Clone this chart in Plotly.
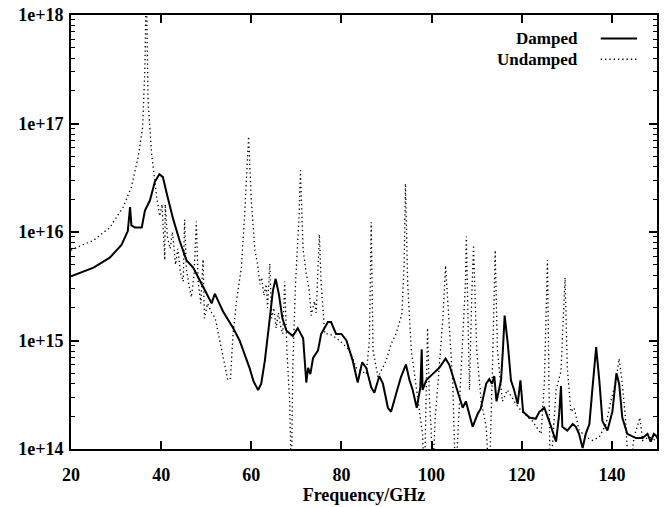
import plotly.graph_objects as go

# ---- data ----
damped_x = [20.0, 22.5, 25.0, 28.6, 31.2, 32.6, 33.1, 33.4, 34.2, 35.7, 36.4, 37.5, 38.6, 39.6, 40.4,
            41.2, 42.7, 44.1, 45.6, 47.1, 48.6, 50.1, 51.2, 51.9, 53.7, 55.9, 57.4, 58.2, 59.6, 60.5,
            61.5, 62.2, 63.0, 64.1, 64.8, 65.4, 66.1, 66.9, 67.8, 69.2, 70.3, 71.5, 72.2, 72.6, 73.1,
            73.7, 74.8, 75.5, 77.0, 77.7, 78.8, 80.0, 81.1, 82.5, 83.6, 84.6, 85.5, 86.6, 87.3, 88.4,
            89.2, 90.3, 91.0, 92.1, 93.2, 94.3, 95.1, 95.8, 96.7, 97.5, 97.8, 98.0, 98.8, 100.2, 101.7,
            103.1, 103.9, 105.0, 106.2, 106.9, 107.6, 108.4, 109.1, 110.2, 110.9, 112.1, 112.8, 113.4,
            113.9, 114.4, 115.4, 115.8, 116.2, 116.9, 117.6, 118.3, 119.1, 119.7, 120.3, 121.7, 123.1,
            123.9, 125.0, 126.1, 127.6, 128.3, 128.7, 129.0, 130.1, 131.3, 132.0, 132.7, 133.5, 134.2,
            135.0, 135.7, 136.5, 137.2, 137.9, 139.0, 140.1, 141.0, 141.6, 142.3, 143.4, 145.3, 146.8,
            147.9, 148.6, 149.3, 150.0]
damped_y = [3.9e15, 4.3e15, 4.7e15, 5.8e15, 7.6e15, 1.02e16, 1.7e16, 1.15e16, 1.1e16, 1.1e16, 1.58e16,
            1.95e16, 2.9e16, 3.4e16, 3.2e16, 2.3e16, 1.3e16, 8.3e15, 5.5e15, 4.7e15, 3.5e15, 2.7e15,
            2.2e15, 2.7e15, 1.86e15, 1.32e15, 1.0e15, 8.1e14, 5.6e14, 4.2e14, 3.5e14, 4.0e14, 6.5e14,
            1.6e15, 2.9e15, 3.7e15, 2.7e15, 1.6e15, 1.23e15, 1.1e15, 1.3e15, 1.05e15, 4.1e14, 5.6e14,
            4.9e14, 6.9e14, 8.1e14, 1.15e15, 1.48e15, 1.48e15, 1.15e15, 1.15e15, 1.0e15, 6.5e14,
            4.1e14, 6.3e14, 5.6e14, 3.7e14, 3.3e14, 4.7e14, 4.0e14, 2.4e14, 2.2e14, 3.2e14, 4.6e14,
            6.0e14, 4.3e14, 3.5e14, 2.4e14, 3.7e14, 8.3e14, 3.5e14, 4.3e14, 4.9e14, 5.6e14, 6.8e14,
            6.0e14, 4.3e14, 3.0e14, 2.4e14, 2.75e14, 2.1e14, 1.6e14, 2.1e14, 2.35e14, 4.0e14, 4.4e14,
            4.0e14, 4.7e14, 2.75e14, 4.3e14, 8.0e14, 1.7e15, 9.3e14, 4.3e14, 3.5e14, 2.6e14, 4.3e14,
            2.2e14, 1.95e14, 1.9e14, 2.2e14, 2.4e14, 1.8e14, 1.17e14, 2.1e14, 3.8e14, 1.6e14, 1.48e14,
            1.7e14, 1.6e14, 1.38e14, 1.02e14, 1.38e14, 1.7e14, 3.7e14, 8.7e14, 4.3e14, 1.8e14, 1.48e14,
            2.2e14, 5.0e14, 4.0e14, 1.95e14, 1.38e14, 1.26e14, 1.26e14, 1.38e14, 1.17e14, 1.38e14, 1.3e14]

undamped_x = [20.0, 22.5, 24.9, 28.6, 31.6, 33.4, 34.9, 35.9, 36.4, 36.7, 37.1, 37.9, 39.0, 39.7, 40.2,
              40.8, 40.9, 41.4, 42.0, 42.5, 43.2, 43.7, 44.3, 44.9, 45.2, 45.6, 46.2, 46.7, 47.3, 47.8,
              48.2, 48.8, 49.3, 49.6, 50.3, 51.2, 52.0, 53.0, 54.0, 54.8, 55.4, 55.9, 56.7, 57.8, 58.5,
              59.0, 59.4, 60.0, 60.8, 61.4, 61.9, 62.3, 62.8, 63.3, 63.6, 64.1, 64.5, 65.0, 65.5, 66.0,
              66.6, 67.0, 67.4, 67.9, 68.5, 68.9, 69.2, 69.8, 70.6, 70.9, 71.5, 72.2, 72.8, 73.3, 74.0,
              74.4, 75.1, 75.5, 76.3, 77.4, 79.6, 81.8, 83.3, 85.5, 86.2, 86.6, 87.0, 88.1, 89.9, 91.0,
              92.1, 93.4, 93.9, 94.2, 94.7, 95.5, 96.6, 97.3, 98.0, 98.4, 98.8, 99.1, 99.5, 99.9, 100.2,
              100.8, 101.4, 102.5, 103.1, 104.0, 104.7, 105.3, 106.2, 106.9, 107.5, 107.7, 108.4, 108.9,
              109.3, 110.0, 111.0, 112.1, 112.8, 113.5, 114.1, 114.6, 115.7, 116.8, 118.7, 120.1, 122.4,
              124.3, 125.0, 125.7, 126.3, 127.6, 128.7, 129.6, 130.1, 130.9, 131.6, 132.7, 134.2, 135.7,
              137.2, 138.7, 139.6, 140.9, 141.6, 142.3, 143.0, 143.8, 144.9, 146.2, 146.8, 148.2, 149.7,
              150.0]
undamped_y = [6.8e15, 7.6e15, 8.3e15, 1.1e16, 1.7e16, 2.6e16, 4.9e16, 9.3e16, 3.3e17, 2.0e18, 1.6e17,
              5.2e16, 2.1e16, 1.4e16, 1.8e16, 5.5e15, 1.8e16, 9.0e15, 7.0e15, 1.0e16, 5.0e15, 7.0e15,
              4.2e15, 3.5e15, 1.3e16, 4.5e15, 3.2e15, 2.5e15, 4.0e15, 1.25e16, 3.5e15, 2.2e15, 5.6e15,
              1.6e15, 2.2e15, 1.8e15, 1.6e15, 1.0e15, 6.3e14, 4.3e14, 4.5e14, 1.07e15, 2.3e15, 4.7e15,
              1.4e16, 4.0e16, 7.6e16, 1.95e16, 6.8e15, 5.0e15, 3.3e15, 3.8e15, 2.6e15, 3.3e15, 2.0e15,
              5.1e15, 1.6e15, 2.0e15, 1.3e15, 1.8e15, 1.3e15, 1.15e15, 3.5e15, 8.0e14, 2.8e14, 5.0e13,
              5.6e14, 3.3e15, 1.4e16, 3.7e16, 6.8e15, 4.1e15, 3.0e15, 1.7e15, 2.3e15, 1.8e15, 9.5e15,
              3.3e15, 1.15e15, 1.15e15, 1.0e15, 8.1e14, 5.6e14, 4.9e14, 1.0e15, 1.23e16, 8.1e14, 4.6e14,
              6.5e14, 9.3e14, 1.15e15, 1.74e15, 5.0e15, 2.8e16, 3.3e15, 8.1e14, 3.7e14, 2.4e14, 1.35e14,
              5.0e13, 4.0e14, 1.3e15, 3.0e14, 1.5e14, 5.0e13, 2.0e14, 4.0e14, 1.6e15, 4.9e15, 1.15e15,
              4.0e14, 5.0e13, 2.75e14, 8.1e14, 3.3e15, 9.1e15, 3.5e14, 2.5e15, 7.6e15, 8.1e14, 2.75e14,
              1.6e14, 5.0e13, 5.6e14, 6.8e15, 8.1e14, 2.75e14, 3.5e14, 2.6e14, 2.2e14, 1.8e14, 1.38e14,
              4.0e14, 5.5e15, 5.0e13, 3.5e14, 5.2e14, 3.8e15, 5.6e14, 2.2e14, 2.4e14, 1.5e14, 1.29e14,
              1.2e14, 1.29e14, 1.7e14, 2.6e14, 4.3e14, 6.8e14, 4.0e14, 1.95e14, 5.0e13, 1.29e14, 1.95e14,
              1.2e14, 1.29e14, 1.2e14, 1.3e14]

series_names = ["Damped", "Undamped"]
x_tick_vals = [20, 40, 60, 80, 100, 120, 140]
y_tick_vals = [1e14, 1e15, 1e16, 1e17, 1e18]
y_tick_text = ["1e+14", "1e+15", "1e+16", "1e+17", "1e+18"]
x_title = "Frequency/GHz"

FONT = "Liberation Serif"
DOT = "1.3px,3px"

fig = go.Figure()
fig.add_trace(go.Scatter(x=damped_x, y=damped_y, mode="lines", name=series_names[0],
                         line=dict(color="black", width=2), showlegend=False))
fig.add_trace(go.Scatter(x=undamped_x, y=undamped_y, mode="lines", name=series_names[1],
                         line=dict(color="black", width=1.3, dash=DOT), showlegend=False))

minor_vals = [m * 10 ** e for e in range(14, 18) for m in range(2, 10)]

fig.update_xaxes(range=[20, 150], tickvals=x_tick_vals, ticks="inside", ticklen=8, tickwidth=1.5,
                 tickcolor="black", showline=True, linewidth=2, linecolor="black", mirror="allticks",
                 showgrid=False, zeroline=False, automargin=False, ticklabelstandoff=8,
                 tickfont=dict(family=FONT, size=18, color="black", weight="bold"),
                 title=dict(text=x_title, font=dict(family=FONT, size=18, color="black", weight="bold"),
                            standoff=2))
fig.update_yaxes(type="log", range=[14, 18], tickvals=y_tick_vals, ticktext=y_tick_text,
                 ticks="inside", ticklen=8, tickwidth=1.5, tickcolor="black",
                 showline=True, linewidth=2, linecolor="black", mirror="allticks",
                 showgrid=False, zeroline=False, automargin=False, ticklabelstandoff=2,
                 minor=dict(tickvals=minor_vals, ticks="inside", ticklen=4, tickwidth=1, tickcolor="black"),
                 tickfont=dict(family=FONT, size=18, color="black", weight="bold"))

# gnuplot-style key: text on the left, sample on the right
legend_font = dict(family=FONT, size=17, color="black", weight="bold")
key_y = [0.946, 0.898]
key_dash = ["solid", DOT]
key_w = [2, 1.3]
for name, ky, dsh, w in zip(series_names, key_y, key_dash, key_w):
    fig.add_annotation(xref="paper", yref="paper", x=0.869, y=ky, text=name, showarrow=False,
                       xanchor="right", yanchor="middle", font=legend_font)
    fig.add_shape(type="line", xref="paper", yref="paper", x0=0.904, x1=0.966, y0=ky, y1=ky,
                  line=dict(color="black", width=w, dash=dsh))

fig.update_layout(width=668, height=507, margin=dict(l=71, r=11, t=15, b=58),
                  paper_bgcolor="white", plot_bgcolor="white", showlegend=False)

fig.write_html("out.html", config={"displayModeBar": False},
               post_script="document.body.style.margin='0';document.body.style.overflow='hidden';")
